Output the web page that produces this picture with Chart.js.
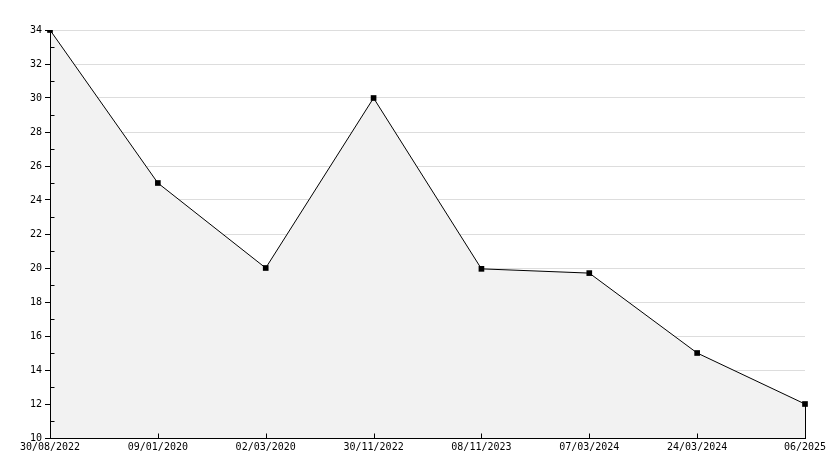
<!DOCTYPE html>
<html>
<head>
<meta charset="utf-8">
<script src="https://cdn.jsdelivr.net/npm/chart.js@4.4.1/dist/chart.umd.min.js"></script>
<style>
  html, body { margin: 0; padding: 0; background: #fff; }
  #wrap { width: 834px; height: 468px; }
</style>
</head>
<body>
<div id="wrap"><canvas id="grafico1" width="834" height="468"></canvas></div>
<script>
// fechas del eje x y valores de la serie
const fechas = ["30/08/2022", "09/01/2020", "02/03/2020", "30/11/2022", "08/11/2023", "07/03/2024", "24/03/2024", "06/2025"];
const valores = [34, 25, 20, 30, 19.95, 19.7, 15, 12];
const yMin = 10;
const yMax = 34;
const yPaso = 2;

// ejes, marcas menores del eje y y marcas del eje x hacia dentro
const marcasExtra = {
  id: "marcasExtra",
  afterDraw(chart) {
    const ctx = chart.ctx;
    const x = chart.scales.x;
    const y = chart.scales.y;
    const izq = Math.round(x.left) + 0.5;
    const abajo = Math.round(y.bottom) + 0.5;
    ctx.save();
    ctx.strokeStyle = "#000";
    ctx.lineWidth = 1;
    ctx.beginPath();
    // ejes
    ctx.moveTo(izq, y.top);
    ctx.lineTo(izq, abajo);
    ctx.lineTo(x.right + 1, abajo);
    for (let v = yMin + yPaso / 2; v < yMax; v += yPaso) {
      const py = Math.round(y.getPixelForValue(v)) + 0.5;
      ctx.moveTo(izq, py);
      ctx.lineTo(izq + 4, py);
    }
    for (let i = 1; i < fechas.length - 1; i++) {
      const px = Math.round(x.getPixelForValue(i)) + 0.5;
      ctx.moveTo(px, abajo);
      ctx.lineTo(px, abajo - 5);
    }
    // borde derecho del relleno
    const ult = fechas.length - 1;
    const rx = Math.round(x.getPixelForValue(ult)) + 0.5;
    ctx.moveTo(rx, y.getPixelForValue(valores[ult]));
    ctx.lineTo(rx, abajo);
    ctx.stroke();
    ctx.restore();
  },
};

const ctx = document.getElementById("grafico1").getContext("2d");
new Chart(ctx, {
  type: "line",
  data: {
    labels: fechas,
    datasets: [
      {
        data: valores,
        borderColor: "#000",
        borderWidth: 1,
        backgroundColor: "#f2f2f2",
        fill: "origin",
        tension: 0,
        pointRadius: 4,
        pointStyle: "rect",
        pointBackgroundColor: "#000",
        pointBorderColor: "#000",
        pointBorderWidth: 0,
      },
    ],
  },
  options: {
    responsive: false,
    animation: false,
    layout: { padding: { top: 30, right: 29, bottom: 0, left: 0 } },
    plugins: { legend: { display: false }, tooltip: { enabled: false } },
    scales: {
      x: {
        offset: false,
        grid: { display: false, drawTicks: false },
        border: { color: "#000", width: 1 },
        ticks: {
          color: "#000",
          font: { family: "DejaVu Sans Mono", size: 10 },
          maxRotation: 0,
          autoSkip: false,
          padding: 3,
        },
        afterFit(s) { s.height = 30; },
      },
      y: {
        min: yMin,
        max: yMax,
        grid: {
          color: "#dddddd",
          tickColor: "#000",
          tickLength: 5,
          drawOnChartArea: true,
        },
        border: { color: "#000", width: 1 },
        ticks: {
          stepSize: yPaso,
          color: "#000",
          font: { family: "DejaVu Sans Mono", size: 10 },
          padding: 3,
        },
        afterFit(s) { s.width = 50; },
      },
    },
  },
  plugins: [marcasExtra],
});
</script>
</body>
</html>
